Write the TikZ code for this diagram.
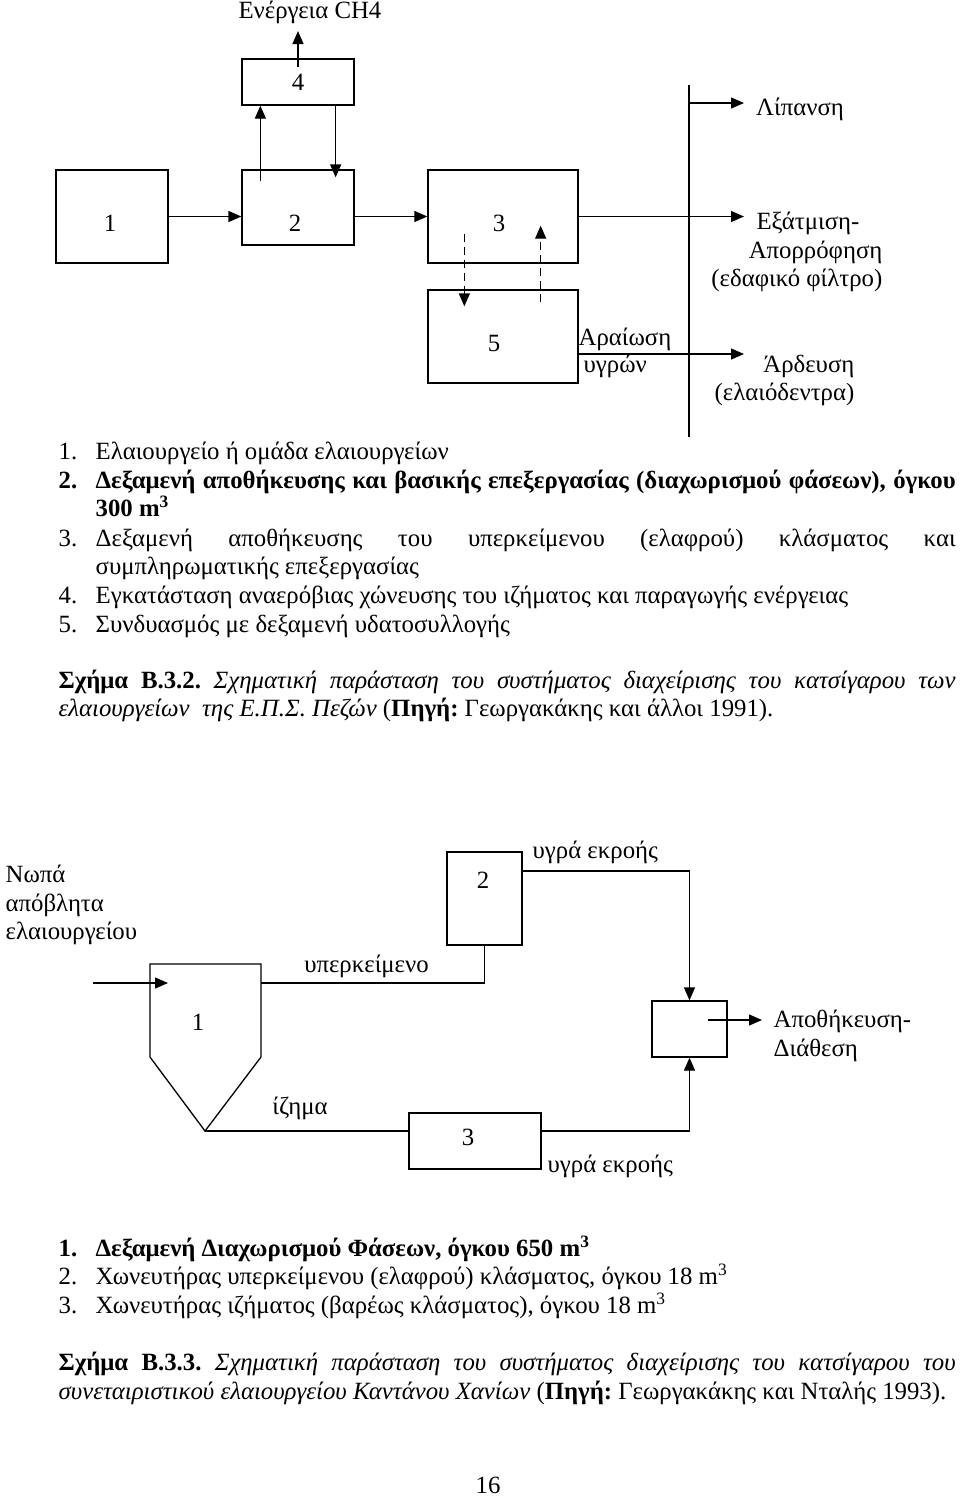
\documentclass[tikz,border=0pt]{standalone}
\usepackage{fontspec}
\setmainfont{Liberation Serif}
\usetikzlibrary{arrows.meta}
\frenchspacing

\begin{document}
\begin{tikzpicture}[x=0.5pt,y=-0.5pt,line width=0.65pt,
        every node/.style={font=\fontsize{12.4pt}{14.3pt}\selectfont},
        box/.style={draw,inner sep=0pt},
        arr/.style={-{Triangle[length=6.5pt,width=5.5pt]}},
        dsh/.style={arr,dash pattern=on 4pt off 2.5pt},
        ltxt/.style={anchor=base west,inner sep=0pt}]
            \useasboundingbox (0,0) rectangle (960,1496);

            \node (ch4) at (310,12) {Ενέργεια CH4};
            \node[box,minimum width=56pt,minimum height=23pt] (b4) at (298,82) {4};
            \node[box,minimum width=56pt,minimum height=46.5pt] (b1) at (112,216.5) {};
            \node (n1) at (110,223) {1};
            \node[box,minimum width=56pt,minimum height=37.5pt] (b2) at (298,207.5) {};
            \node (n2) at (295,223) {2};
            \node[box,minimum width=75pt,minimum height=46.5pt] (b3) at (503,216.5) {};
            \node (n3) at (499,223) {3};
            \node[box,minimum width=75pt,minimum height=46.5pt] (b5) at (503,336.5) {};
            \node (n5) at (494,343) {5};

            \draw[arr] (b1.east) -- (b1.east -| b2.west);
            \draw[arr] (b3.west -| b2.east) -- (b3.west);
            \draw[arr] ([xshift=9.5pt,yshift=-6pt]b2.north west) -- ([xshift=9.5pt]b4.south west);
            \draw[arr] ([xshift=-9.5pt]b4.south east) -- ([xshift=-9.5pt,yshift=-4pt]b2.north east);
            \coordinate (ch4tip) at (298,31);
            \draw[arr] ([yshift=-4.5pt]b4.north) -- (ch4tip);
            \draw[dsh] ([xshift=18.5pt,yshift=15pt]b3.south west) -- ([xshift=18.5pt,yshift=-8.5pt]b5.north west);
            \draw[dsh] ([xshift=-19pt,yshift=-6.5pt]b5.north east) -- ([xshift=-19pt,yshift=19pt]b3.south east);

            \coordinate (bustop) at (689,85);
            \coordinate (busbot) at (689,437);
            \draw (bustop) -- (busbot);
            \coordinate (lipstart) at (689,103);
            \coordinate (liptip) at (744,103);
            \draw[arr] (lipstart) -- (liptip);
            \node (lip) at (800,109) {Λίπανση};
            \coordinate (evaptip) at (744,216.5);
            \draw[arr] (b3.east) -- (evaptip);
            \node[align=right,anchor=east,inner sep=0pt] (evap) at (883,252) {Εξάτμιση-\hspace*{11.5pt}\\Απορρόφηση\\(εδαφικό φίλτρο)};
            \coordinate (irrtip) at (744,354);
            \draw[arr] ([yshift=-8.75pt]b5.east) -- (irrtip);
            \node[anchor=west,inner sep=0pt] (dil1) at (578,339) {Αραίωση};
            \node[anchor=west,inner sep=0pt] (dil2) at (583,366) {υγρών};
            \node[align=right,anchor=east,inner sep=0pt] (irr) at (855,380.5) {Άρδευση\\(ελαιόδεντρα)};

            \node[ltxt] (l1n) at (58,459) {1.};
            \node[ltxt] (l1t) at (95,459) {Ελαιουργείο ή ομάδα ελαιουργείων};
            \node[ltxt] (l2n) at (58,488) {\bfseries 2.};
            \node[ltxt] (l2t) at (95,488) {\makebox[430pt][s]{\bfseries Δεξαμενή αποθήκευσης και βασικής επεξεργασίας (διαχωρισμού φάσεων), όγκου}};
            \node[ltxt] (l2u) at (95,516) {\bfseries 300 m\textsuperscript{3}};
            \node[ltxt] (l3n) at (58,546) {3.};
            \node[ltxt] (l3t) at (95,546) {\makebox[430pt][s]{Δεξαμενή αποθήκευσης του υπερκείμενου (ελαφρού) κλάσματος και}};
            \node[ltxt] (l3u) at (95,574) {συμπληρωματικής επεξεργασίας};
            \node[ltxt] (l4n) at (58,603) {4.};
            \node[ltxt] (l4t) at (95,603) {Εγκατάσταση αναερόβιας χώνευσης του ιζήματος και παραγωγής ενέργειας};
            \node[ltxt] (l5n) at (58,632) {5.};
            \node[ltxt] (l5t) at (95,632) {Συνδυασμός με δεξαμενή υδατοσυλλογής};
            \node[ltxt] (cap1a) at (58,688) {\makebox[448.5pt][s]{\textbf{Σχήμα Β.3.2.} \textit{Σχηματική παράσταση του συστήματος διαχείρισης του κατσίγαρου των}}};
            \node[ltxt] (cap1b) at (58,716) {\textit{ελαιουργείων\ \ της Ε.Π.Σ. Πεζών} (\textbf{Πηγή:} Γεωργακάκης και άλλοι 1991).};

            \node[align=left,anchor=west,inner sep=0pt] (raw) at (5,905) {Νωπά\\απόβλητα\\ελαιουργείου};
            \coordinate (t1a) at (150,964);
            \coordinate (t1b) at (261,964);
            \coordinate (t1c) at (261,1057);
            \coordinate (t1tip) at (205,1131);
            \coordinate (t1d) at (150,1057);
            \draw (t1a) -- (t1b) -- (t1c) -- (t1tip) -- (t1d) -- cycle;
            \node (m1) at (198,1022) {1};
            \coordinate (instart) at (93,983);
            \coordinate (intip) at (168,983);
            \draw[arr] (instart) -- (intip);
            \coordinate (t1out) at (261,983);
            \node[box,minimum width=37.5pt,minimum height=46.5pt] (s2) at (484.5,898.5) {};
            \node (m2) at (483,880) {2};
            \draw (t1out) -| (s2.south);
            \node (sup) at (366.5,966) {υπερκείμενο};
            \node[box,minimum width=37.5pt,minimum height=28pt] (st) at (689.5,1029) {};
            \draw[arr] ([yshift=13.75pt]s2.east) -| (st.north);
            \node[anchor=west,inner sep=0pt] (eff1) at (532,852) {υγρά εκροής};
            \coordinate (sttip) at (762,1020);
            \draw[arr] ([xshift=-10pt,yshift=4.5pt]st.east) -- (sttip);
            \node[align=left,anchor=west,inner sep=0pt] (disp) at (773,1036) {Αποθήκευση-\\Διάθεση};
            \node[box,minimum width=66pt,minimum height=28pt] (s3) at (475,1141) {};
            \node (m3) at (468,1137) {3};
            \draw (t1tip) -- (t1tip -| s3.west);
            \node (sed) at (300,1108) {ίζημα};
            \draw[arr] (t1tip -| s3.east) -| (st.south);
            \node[anchor=west,inner sep=0pt] (eff2) at (547,1166) {υγρά εκροής};

            \node[ltxt] (k1n) at (58,1256) {\bfseries 1.};
            \node[ltxt] (k1t) at (95,1256) {\bfseries Δεξαμενή Διαχωρισμού Φάσεων, όγκου 650 m\textsuperscript{3}};
            \node[ltxt] (k2n) at (58,1284) {2.};
            \node[ltxt] (k2t) at (95,1284) {Χωνευτήρας υπερκείμενου (ελαφρού) κλάσματος, όγκου 18 m\textsuperscript{3}};
            \node[ltxt] (k3n) at (58,1313) {3.};
            \node[ltxt] (k3t) at (95,1313) {Χωνευτήρας ιζήματος (βαρέως κλάσματος), όγκου 18 m\textsuperscript{3}};
            \node[ltxt] (cap2a) at (58,1370) {\makebox[448.5pt][s]{\textbf{Σχήμα Β.3.3.} \textit{Σχηματική παράσταση του συστήματος διαχείρισης του κατσίγαρου του}}};
            \node[ltxt] (cap2b) at (58,1399) {\textit{συνεταιριστικού ελαιουργείου Καντάνου Χανίων} (\textbf{Πηγή:} Γεωργακάκης και Νταλής 1993).};

            \node[inner sep=0pt] (pg) at (488,1485) {16};
        \end{tikzpicture}
\end{document}
